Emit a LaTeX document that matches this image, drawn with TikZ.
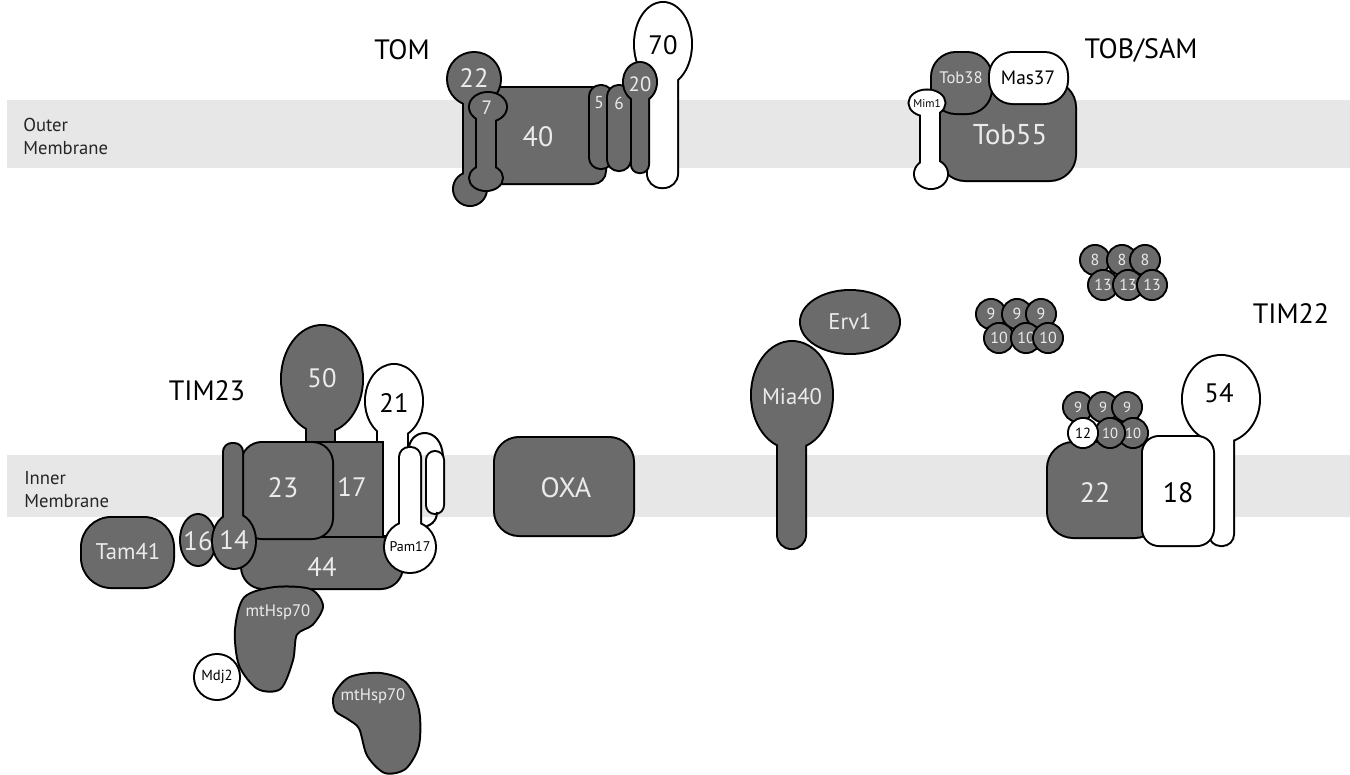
\documentclass[tikz,border=0pt]{standalone}
\usepackage{fontspec}
\setmainfont{PT Sans}
\definecolor{prot}{HTML}{6B6B6B}
\definecolor{ptext}{HTML}{EBEBEB}
\definecolor{band}{HTML}{E7E7E7}
\newcommand\szf[1]{\fontsize{#1}{#1}\selectfont}
% outlined shapes: a doubled stroke first, then the fill, so that
% overlapping parts of one protein merge into a single outline
\newcommand\one[2]{\path[outl] #2; \path[fill=#1] #2;}
\newcommand\two[3]{\path[outl] #2; \path[outl] #3; \path[fill=#1] #2; \path[fill=#1] #3;}
\newcommand\three[4]{\path[outl] #2; \path[outl] #3; \path[outl] #4;
  \path[fill=#1] #2; \path[fill=#1] #3; \path[fill=#1] #4;}
\tikzset{
  outl/.style={draw=black, line width=3pt},
  thinl/.style={draw=black, line width=1.5pt},
  gl/.style={inner sep=0pt, text=ptext},
  bl/.style={inner sep=0pt, text=black},
  memlab/.style={anchor=west, align=left, inner sep=0pt, text=black!85,
    font=\fontsize{14}{17.5}\selectfont},
}
\begin{document}
\begin{tikzpicture}[x=0.75pt,y=-0.75pt]
\useasboundingbox (0,0) rectangle (1350,775);
\fill[white] (0,0) rectangle (1350,775);
% membranes
\fill[band] (7,100) rectangle (1350,168);
\fill[band] (7,455) rectangle (1350,517);
\node[memlab] (outerlab) at (23,136.5) {Outer\\Membrane};
\node[memlab] (innerlab) at (24,489.5) {Inner\\Membrane};

% ---------------- TOM ----------------
\node[bl, font=\szf{21}] (tomlab) at (402,50) {TOM};
\one{prot}{[rounded corners=9pt] (468,88) rectangle (605,183)}
\one{prot}{[rounded corners=8pt] (590,86) rectangle (612,168)}
\one{prot}{[rounded corners=8pt] (608,86) rectangle (630,170)}
\two{white}{(663,44) ellipse[x radius=28,y radius=41]}{[rounded corners=10pt] (648,60) rectangle (677,187)}
\two{prot}{(640,82) ellipse[x radius=16,y radius=19]}{[rounded corners=5.5pt] (632,90) rectangle (648,172)}
\three{prot}{(474,79) circle[radius=26]}{(464,85) rectangle (482,188)}{(470,189) circle[radius=16]}
\three{prot}{(488,107) ellipse[x radius=18,y radius=14]}{(477,107) rectangle (495,178)}{(486,178) ellipse[x radius=16,y radius=12]}
\node[gl, font=\szf{21}] (t40) at (538,137) {40};
\node[gl, font=\szf{20}] (t22) at (474,78) {22};
\node[gl, font=\szf{14.5}] (t7) at (487,108) {7};
\node[gl, font=\szf{13}] (t5) at (599,103) {5};
\node[gl, font=\szf{13}] (t6) at (619,103) {6};
\node[gl, font=\szf{15.5}] (t20) at (640,84) {20};
\node[bl, font=\szf{20}] (t70) at (663,45) {70};

% ---------------- TOB/SAM ----------------
\node[bl, font=\szf{21}] (toblab) at (1141,50) {TOB/SAM};
\one{prot}{[rounded corners=19pt] (940,82) rectangle (1075,180)}
\one{prot}{[rounded corners=18pt] (932,53) rectangle (991,113)}
\one{white}{[rounded corners=17pt] (990,53) rectangle (1067,103)}
\three{white}{(927,103) ellipse[x radius=17.5,y radius=12.5]}{(921,103) rectangle (939,172)}{(931,174) ellipse[x radius=16,y radius=14]}
\node[gl, font=\szf{12.5}] (tob38) at (961,78) {Tob38};
\node[bl, font=\szf{14.5}] (mas37) at (1028,78) {Mas37};
\node[gl, font=\szf{21.5}] (tob55) at (1010,135) {Tob55};
\node[bl, font=\szf{8.5}] (mim1) at (927,103) {Mim1};

% ---------------- small TIM complexes ----------------
\foreach \cx in {1095,1122,1145} {
  \one{prot}{(\cx,260) circle[radius=14]}
  \node[gl, font=\szf{12}] (e8-\cx) at (\cx,260) {8};
}
\foreach \cx in {1103,1128,1152} {
  \one{prot}{(\cx,285) circle[radius=14]}
  \node[gl, font=\szf{12}] (e13-\cx) at (\cx,285) {13};
}
\foreach \cx in {991,1017,1041} {
  \one{prot}{(\cx,314) circle[radius=14]}
  \node[gl, font=\szf{12}] (e9-\cx) at (\cx,314) {9};
}
\foreach \cx in {999,1026,1048} {
  \one{prot}{(\cx,338) circle[radius=14]}
  \node[gl, font=\szf{12}] (e10-\cx) at (\cx,338) {10};
}

% ---------------- TIM22 ----------------
\node[bl, font=\szf{21}] (tim22lab) at (1291,314) {TIM22};
\two{white}{(1221,399) ellipse[x radius=38,y radius=43]}{[rounded corners=8pt] (1210,420) rectangle (1233,545)}
\one{prot}{[rounded corners=19pt] (1048,443) rectangle (1160,537)}
\foreach \cx in {1078,1103,1127} {
  \one{prot}{(\cx,407) circle[radius=14]}
  \node[gl, font=\szf{11}] (f9-\cx) at (\cx,407) {9};
}
\foreach \cx in {1133,1110} {
  \one{prot}{(\cx,433) circle[radius=14]}
  \node[gl, font=\szf{11}] (f10-\cx) at (\cx,433) {10};
}
\one{white}{(1083,433) circle[radius=14]}
\node[bl, font=\szf{11}] (f12) at (1083,433) {12};
\one{white}{[rounded corners=12pt] (1143,437) rectangle (1213,545)}
\node[gl, font=\szf{21}] (t22b) at (1095,493) {22};
\node[bl, font=\szf{21}] (t18) at (1178,493) {18};
\node[bl, font=\szf{20}] (t54) at (1219,393) {54};

% ---------------- Mia40 / Erv1 / OXA ----------------
\one{prot}{(850,322) ellipse[x radius=49,y radius=31]}
\two{prot}{(792,395) ellipse[x radius=40,y radius=53]}{[rounded corners=10pt] (778,420) rectangle (805,548)}
\node[gl, font=\szf{17}] (erv1) at (850,322) {Erv1};
\node[gl, font=\szf{17}] (mia40) at (792,397) {Mia40};
\one{prot}{[rounded corners=18pt] (495,438) rectangle (633,535)}
\node[gl, font=\szf{21}] (oxa) at (566,488) {OXA};

% ---------------- TIM23 ----------------
\node[bl, font=\szf{21}] (tim23lab) at (207,391) {TIM23};
\two{prot}{(322,379) ellipse[x radius=40,y radius=53]}{(307,420) rectangle (334,447)}
\two{white}{(394,401) ellipse[x radius=28,y radius=36]}{(378,420) rectangle (407,535)}
\one{prot}{(300,443) rectangle (382,538)}
\one{prot}{(242,560) [rounded corners=16pt] -- (242,588) -- (402,588) -- (402,538) [sharp corners] -- (242,538) -- cycle}
\one{prot}{[rounded corners=15pt] (242,443) rectangle (332,538)}
\one{prot}{(198,540) ellipse[x radius=17,y radius=25]}
\two{prot}{[rounded corners=6pt] (224,444) rectangle (242,530)}{(234,541) ellipse[x radius=21,y radius=27]}
\one{prot}{[rounded corners=22pt] (82,518) rectangle (173,587)}
% second transmembrane loop beside Pam17
\one{white}{[rounded corners=6pt] (427,452) rectangle (443,513)}
\draw[thinl] (409,447) .. controls (412,428) and (441,426) .. (443,456);
\draw[thinl] (437,512) .. controls (437,522) and (430,526) .. (421,528);
\two{white}{[rounded corners=7pt] (400,448) rectangle (420,535)}{(410,547) circle[radius=25]}
\node[gl, font=\szf{20}] (t50) at (322,378) {50};
\node[bl, font=\szf{20}] (t21) at (394,403) {21};
\node[gl, font=\szf{21}] (t23) at (283,488) {23};
\node[gl, font=\szf{20}] (t17) at (352,487) {17};
\node[gl, font=\szf{20}] (t44) at (322,567) {44};
\node[gl, font=\szf{20}] (t16) at (198,541) {16};
\node[gl, font=\szf{20}] (t14) at (234,540) {14};
\node[gl, font=\szf{17}] (tam41) at (128,552) {Tam41};
\node[bl, font=\szf{10.5}] (pam17) at (410,547) {Pam17};

% matrix chaperones
\one{prot}{plot[smooth cycle] coordinates {(245,598) (275,588) (310,590) (322,606) (312,624) (296,634) (292,660) (280,688) (258,688) (240,665) (236,630)}}
\one{prot}{plot[smooth cycle] coordinates {(335,695) (350,678) (380,674) (405,683) (418,710) (418,745) (405,768) (385,772) (368,755) (360,728) (348,718) (336,710)}}
\one{white}{(217,677) circle[radius=22]}
\node[gl, font=\szf{12.5}] (hsp1) at (278,612) {mtHsp70};
\node[gl, font=\szf{12.5}] (hsp2) at (373,696) {mtHsp70};
\node[bl, font=\szf{11}] (mdj2) at (217,677) {Mdj2};
\end{tikzpicture}
\end{document}
